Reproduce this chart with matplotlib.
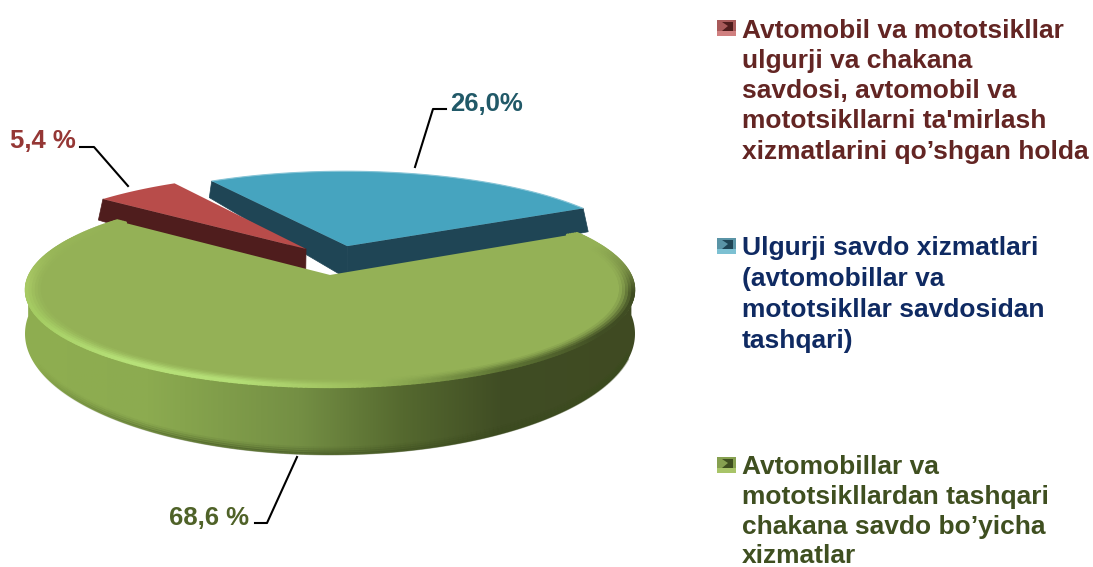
import numpy as np
import matplotlib
matplotlib.use('Agg')
import matplotlib.pyplot as plt
from matplotlib.patches import Polygon, Rectangle
from matplotlib.collections import LineCollection
from matplotlib.colors import LinearSegmentedColormap, to_rgb

# data
blue_share = 26.0
red_share = 5.4
green_share = 68.6
value_labels = ['26,0%', '5,4 %', '68,6 %']
legend_red = ['Avtomobil va mototsikllar', 'ulgurji va chakana', 'savdosi, avtomobil va',
              "mototsikllarni ta'mirlash", 'xizmatlarini qo’shgan holda']
legend_blue = ['Ulgurji savdo xizmatlari', '(avtomobillar va', 'mototsikllar savdosidan', 'tashqari)']
legend_green = ['Avtomobillar va', 'mototsikllardan tashqari', 'chakana savdo bo’yicha', 'xizmatlar']

plt.rcParams['font.family'] = ['Liberation Sans', 'DejaVu Sans']

fig = plt.figure(figsize=(10.93, 5.67), dpi=100)
ax = fig.add_axes([0, 0, 1, 1])

# pie geometry, in pixels of the picture
cx, cy, a, b = 330, 290, 305, 97
k = 0.155  # perspective, moves the pie centre towards the back


def top(theta, r=1.0, off=(0, 0)):
    t = np.radians(theta)
    x = r * np.cos(t) + off[0]
    y = r * np.sin(t) + off[1]
    d = 1 + k * y
    return cx + a * x * np.sqrt(1 - k ** 2) / d, cy - b * (y + k) / d


def bottom(x, y):
    return x, y + 16 + 0.25 * (y - 179)


def wall(x1, y1, x2, y2):
    # the cut faces of the pulled out slices spread a little outwards
    xb1, yb1 = bottom(x1, y1)
    xb2, yb2 = bottom(x2, y2)
    xb1 = cx + (xb1 - cx) * 1.02
    xb2 = cx + (xb2 - cx) * 1.02
    return np.column_stack([[x1, x2, xb2, xb1], [y1, y2, yb2, yb1]])


def segments(px, py):
    pts = np.column_stack([px, py])
    return np.stack([pts[:-1], pts[1:]], axis=1)


total = blue_share + red_share + green_share
start = 28.0
blue_end = start + 360 * blue_share / total
red_end = blue_end + 360 * red_share / total
green_end = red_end + 360 * green_share / total

off_blue = (0.06, 0.32)
off_red = (-0.083, 0.287)

# blue slice
bt = np.linspace(start, blue_end, 60)
x, y = top(bt, 1, off_blue)
x0, y0 = top(0, 0, off_blue)
for xe, ye in [(x[0], y[0]), (x[-1], y[-1])]:
    ax.add_patch(Polygon(wall(x0, y0, xe, ye), fc='#1f4555', ec='#1f4555', lw=0.5))
ax.add_patch(Polygon(np.column_stack([np.r_[x0, x], np.r_[y0, y]]), fc='#46a4bf', ec='none'))
ax.plot(x, y, color='#86c4d6', lw=0.8, solid_capstyle='butt')

# red slice
rt = np.linspace(blue_end, red_end, 20)
x, y = top(rt, 1, off_red)
x0, y0 = top(0, 0, off_red)
ax.add_patch(Polygon(wall(x0, y0, x[-1], y[-1]), fc='#4f1d1d', ec='#4f1d1d', lw=0.5))
ax.add_patch(Polygon(np.column_stack([np.r_[x0, x], np.r_[y0, y]]), fc='#b84c4a', ec='none'))

# green slice: side with a gradient
gt = np.linspace(red_end, green_end, 300)
x, y = top(gt)
xb, yb = bottom(x, y)
vis = (gt >= 180) & (gt <= 360)
xo = np.r_[x[vis], xb[vis][::-1]]
yo = np.r_[y[vis], yb[vis][::-1]]
side = Polygon(np.column_stack([xo, yo]), fc='none', ec='none')
ax.add_patch(side)
side_cmap = LinearSegmentedColormap.from_list('lado', [(0, '#8fae50'), (0.2, '#8cab50'), (0.45, '#748f44'),
                                                       (0.62, '#55692f'), (0.78, '#404d24'), (1, '#3f4a22')])
img = ax.imshow(np.linspace(0, 1, 256)[None, :], cmap=side_cmap, extent=(25, 635, 460, 280), aspect='auto', zorder=2)
img.set_clip_path(side)

# dark line along the bottom of the side, fading out to the left
front = (gt >= 205) & (gt <= 340)
fade = np.interp((gt[front][:-1] + gt[front][1:]) / 2, [205, 250, 340], [0, 1, 1])
for dd, al in [(1, 0.45), (3, 0.3), (5, 0.18), (7, 0.08)]:
    cols = np.column_stack([np.tile(to_rgb('#3a4a1e'), (len(fade), 1)), fade * al])
    ax.add_collection(LineCollection(segments(xb[front], yb[front] - dd), colors=cols, linewidths=2, zorder=3))

x0, y0 = top(0, 0)
ax.add_patch(Polygon(np.column_stack([np.r_[x0, x], np.r_[y0, y]]), fc='#94b156', ec='none', zorder=4))

# bevel on the rim of the top face
base = np.array(to_rgb('#94b156'))
rim_angles = [141, 165, 185, 205, 235, 255, 275, 300, 325, 350, 365, 380, 388]
rim_colors = ['#94b156', '#98b658', '#a8c864', '#a4cc62', '#b6e078', '#b4de76', '#9cbd5c', '#5e7434', '#414e24',
              '#3f4c22', '#7a9046', '#94b156', '#94b156']
rim_rgb = np.array([to_rgb(c) for c in rim_colors])
tt = (gt[:-1] + gt[1:]) / 2
rim = np.column_stack([np.interp(tt, rim_angles, rim_rgb[:, i]) for i in range(3)])
for r, f in [(0.955, 0.12), (0.965, 0.3), (0.975, 0.55), (0.985, 0.8), (0.995, 1.0)]:
    xr, yr = top(gt, r)
    ax.add_collection(LineCollection(segments(xr, yr), colors=base + (rim - base) * f, linewidths=2.6,
                                     capstyle='round', zorder=5))

# leader lines
ax.plot([415, 433, 446], [167, 109, 109], color='black', lw=1.5, zorder=6)
ax.plot([128, 94, 80], [186, 147, 147], color='black', lw=1.5, zorder=6)
ax.plot([297, 267, 255], [457, 523, 523], color='black', lw=1.5, zorder=6)

# value labels
ax.text(450, 104, value_labels[0], color='#215968', fontsize=18.5, fontweight='bold', va='center')
ax.text(10, 141, value_labels[1], color='#953735', fontsize=18.5, fontweight='bold', va='center')
ax.text(169, 518, value_labels[2], color='#4f6228', fontsize=18.5, fontweight='bold', va='center')


# legend
def legend_block(lines, ys, color, y_mark, c_light, c_mid, c_dark):
    ax.add_patch(Rectangle((717, y_mark), 19, 16, fc=c_light, ec='none'))
    ax.add_patch(Rectangle((717, y_mark), 19, 11, fc=c_mid, ec='none'))
    ax.add_patch(Polygon([(722, y_mark + 2), (733, y_mark + 2), (733, y_mark + 11), (722, y_mark + 11),
                          (728, y_mark + 6)], fc=c_dark, ec='none'))
    for txt, yy in zip(lines, ys):
        ax.text(742, yy, txt, color=color, fontsize=19, fontweight='bold', va='center')


legend_block(legend_red, [31, 61, 91, 121, 152], '#632523', 20, '#d08080', '#a85a5a', '#4f1d1d')
legend_block(legend_blue, [248, 279, 310, 341], '#0f2a62', 238, '#7cc0d2', '#5a94a6', '#1f4555')
legend_block(legend_green, [467, 497, 527, 556], '#3f4f20', 457, '#a8c468', '#86a050', '#3f4f20')

ax.set_xlim(0, 1093)
ax.set_ylim(567, 0)
ax.axis('off')
fig.savefig('out.png', dpi=100)
